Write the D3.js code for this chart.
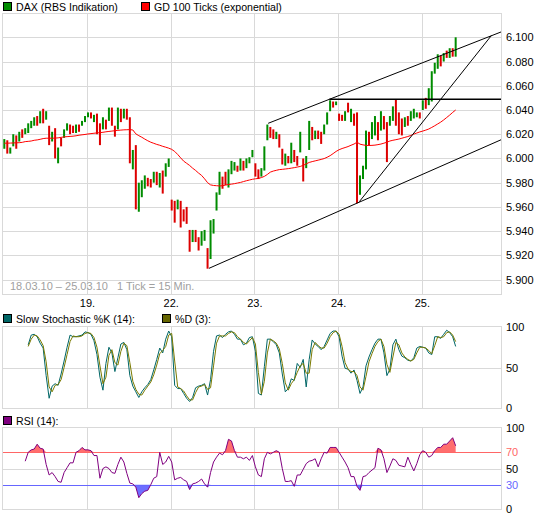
<!DOCTYPE html>
<html>
<head>
<meta charset="utf-8">
<script src="https://cdn.jsdelivr.net/npm/d3@7"></script>
<style>
body { margin: 0; background: #fff; }
svg { display: block; font-family: "Liberation Sans", Arial, sans-serif; font-size: 11px; }
</style>
</head>
<body>
<svg width="545" height="516"></svg>
<script>
// day labels and the tick index where each day starts (30 min per index)
var dayLabels = ["19.", "22.", "23.", "24.", "25."];
var dayStarts = [28, 56, 84, 112, 140];

// DAX bars, open / close per index
var barOpen = [6008,6015,6004,6010,6019,6014,6024,6020,6021,6025,6027,6035,6029,6041,6032,6027,6014,6025,5996,6017,
  6017,6023,6028,6027,6021,6028,6027,6030,6034,6038,6030,6037,6029,6024,6032,6031,6042,6027,6024,6041,
  6033,6041,6034,5991,6011,5956,5968,5975,5984,5983,5980,5989,5976,5990,5985,5993,5966,5965,5958,5965,
  5958,5960,5941,5931,5941,5935,5928,5932,5926,5917,5938,5957,5970,5985,5989,5976,5987,5990,5994,5990,
  5998,5992,5996,6001,5996,5991,5985,5990,6015,6026,6024,6016,6020,6008,5994,6002,5996,6007,6002,6005,
  6000,5992,6007,6026,6016,6023,6022,6020,6028,6039,6047,6044,6037,6036,6031,6046,6030,6037,6038,5970,
  5983,5991,6022,6016,6019,6030,6023,6035,6030,6027,6031,6049,6038,6033,6026,6035,6031,6033,6034,6038,
  6040,6050,6044,6047,6070,6074,6085,6080,6089,6083,6091,6084];
var barClose = [6016,6004,6009,6020,6008,6022,6017,6025,6029,6031,6034,6027,6039,6029,6039,6011,6022,6000,6009,6010,
  6024,6029,6020,6021,6028,6022,6031,6035,6038,6033,6036,6020,6011,6034,6024,6042,6027,6018,6042,6030,
  6041,6032,5996,6007,5958,5980,5982,5986,5977,5976,5989,5978,5988,5971,5996,6000,5957,5947,5966,5943,
  5948,5946,5923,5941,5931,5924,5940,5941,5909,5949,5950,5972,5989,5975,5978,5991,5998,5997,5989,6000,
  5990,6000,6001,6007,5985,5983,5992,6010,6028,6017,6016,6022,6009,5995,6004,5996,6013,5997,5994,6022,
  5981,6002,6031,6015,6023,6016,6012,6028,6038,6048,6042,6047,6031,6031,6039,6038,6041,6027,5963,5986,
  5994,6023,6011,6030,6035,6015,6039,6024,5997,6035,6043,6027,6020,6019,6034,6027,6039,6041,6038,6033,
  6048,6041,6058,6072,6079,6086,6076,6087,6083,6091,6084,6100];

// GD 100 Ticks (exponential)
var emaValues = [6012.6,6012.6,6012.7,6012.8,6012.9,6013.0,6013.3,6013.9,6014.1,6014.4,6015.0,6015.3,6015.8,6016.4,6016.7,6016.7,6016.7,6016.8,6017.0,6017.4,
  6017.8,6018.0,6018.2,6018.4,6018.7,6019.2,6019.5,6019.8,6020.2,6020.5,6020.8,6021.1,6021.3,6021.6,6022.0,6022.3,6022.6,6022.9,6023.2,6023.4,
  6023.6,6023.7,6023.8,6023.5,6020.3,6018.8,6017.5,6016.0,6014.6,6013.4,6012.5,6011.6,6010.9,6010.0,6009.3,6008.5,6007.5,6005.8,6003.3,6000.5,
  5997.8,5996.0,5994.2,5992.0,5990.1,5987.9,5986.0,5983.2,5980.0,5978.2,5977.7,5977.5,5977.3,5977.5,5978.0,5978.5,5978.8,5979.2,5979.7,5980.2,
  5980.9,5981.6,5982.2,5982.8,5983.2,5983.5,5984.2,5985.2,5986.8,5988.7,5989.6,5990.2,5990.8,5991.0,5991.3,5991.6,5992.0,5992.4,5992.9,5993.4,
  5994.3,5995.5,5996.7,5997.4,5998.0,5998.6,5999.2,5999.9,6001.0,6002.3,6004.0,6005.8,6007.2,6008.2,6009.0,6009.8,6010.9,6011.9,6013.4,6011.8,
  6011.2,6010.8,6010.7,6010.8,6011.0,6011.4,6011.9,6012.6,6013.4,6014.4,6015.0,6015.5,6016.0,6016.7,6017.4,6018.1,6019.0,6020.1,6021.0,6021.9,
  6022.6,6023.4,6024.3,6025.6,6027.0,6028.5,6030.0,6031.8,6033.8,6035.8,6038.0,6040.0];

// slow stochastic, starts at index 8
var stochStart = 8;
var stochK = [78,90,91,88,80,74,40,12,27,30,28,42,58,75,90,88,88,89,90,94,
  93,91,83,66,38,22,55,75,68,45,62,79,81,72,40,27,20,13,20,25,
  29,35,47,60,74,68,85,95,88,28,24,24,18,12,8,13,25,27,28,30,
  16,35,70,89,90,87,91,94,95,91,85,85,78,80,87,88,70,18,16,51,
  85,85,82,78,68,42,20,24,36,34,55,50,60,26,60,84,79,76,72,76,
  84,92,95,95,88,64,49,48,43,47,34,18,26,52,63,72,80,85,85,68,
  40,48,78,85,72,64,62,59,58,62,74,76,75,74,68,66,88,88,86,91,
  96,93,88,76];
var stochD = [76,85,90,89,84,77,57,26,20,28,29,35,50,66,82,89,88,88,89,92,
  93,92,87,75,52,30,38,65,72,56,53,70,80,77,56,33,23,17,16,22,
  27,32,41,53,67,71,76,90,92,58,26,24,21,15,10,10,19,26,27,29,
  23,25,52,80,89,89,89,92,94,93,88,85,81,79,83,87,79,44,17,33,
  68,85,83,80,73,55,31,22,30,35,44,52,55,43,43,72,81,77,74,74,
  80,88,93,95,91,76,56,48,45,45,40,26,22,39,57,67,76,82,85,76,
  54,44,63,81,78,68,63,60,58,60,68,75,75,74,71,67,77,88,87,88,
  93,94,90,82];

// RSI (14), starts at index 7
var rsiStart = 7;
var rsiValues = [59,70,73,74,80,75,74,55,42,45,40,34,33,45,51,57,57,70,72,76,
  73,73,72,66,66,38,50,52,50,45,44,55,64,58,44,32,31,27,14,19,
  22,23,30,38,40,70,55,58,65,58,36,38,39,36,34,24,31,32,34,37,
  31,27,45,58,64,69,67,72,86,84,72,64,64,62,64,60,66,52,42,40,
  62,70,68,70,72,70,50,34,34,35,28,42,42,49,56,59,60,62,52,62,
  70,69,76,76,76,70,64,58,51,40,40,28,23,40,41,45,48,51,75,73,
  62,45,53,62,60,54,53,52,64,55,47,56,67,72,70,64,66,72,76,76,
  80,80,84,88,78];

var priceTicks = [5900,5920,5940,5960,5980,6000,6020,6040,6060,6080,6100];
var stochTicks = [0,50,100];
var rsiTicks = [0,30,50,70,100];

// trend lines drawn on the chart: [index, price] pairs
var trendLines = [
  [[88.6, 6029.0], [166.5, 6104.4]],
  [[109.1, 6048.8], [166.5, 6048.8]],
  [[68.8, 5909.3], [166.5, 6015.4]],
  [[119.1, 5964.3], [163.3, 6101.5]]
];

var svg = d3.select("svg");
var left = 3.3, right = 501;
var gridColor = "#d9d9d9";

var x = d3.scaleLinear().domain([0, 166.5]).range([left, right]);
var yMain = d3.scaleLinear().domain([5900, 6100]).range([279.6, 37.3]);
var yStoch = d3.scaleLinear().domain([0, 100]).range([408, 327]);
var yRsi = d3.scaleLinear().domain([0, 100]).range([509, 428]);

var deFormat = d3.formatLocale({decimal: ",", thousands: ".", grouping: [3], currency: ["", "€"]}).format(",");

// panel frame + gridlines
function panel(top, bottom, yScale, ticks) {
  var g = svg.append("g").attr("shape-rendering", "crispEdges");
  g.selectAll(".hg").data(ticks).enter().append("line")
    .attr("x1", left).attr("x2", right)
    .attr("y1", function(d) { return Math.round(yScale(d)) + 0.5; })
    .attr("y2", function(d) { return Math.round(yScale(d)) + 0.5; })
    .attr("stroke", gridColor);
  g.selectAll(".vg").data(dayStarts).enter().append("line")
    .attr("x1", function(d) { return Math.round(x(d)) + 0.5; })
    .attr("x2", function(d) { return Math.round(x(d)) + 0.5; })
    .attr("y1", top).attr("y2", bottom)
    .attr("stroke", gridColor);
  g.append("rect")
    .attr("x", 2.5).attr("y", top + 0.5)
    .attr("width", right - 2.5).attr("height", bottom - top)
    .attr("fill", "none").attr("stroke", gridColor);
}

panel(13, 294, yMain, priceTicks);
panel(326, 408, yStoch, [50]);
panel(427, 509, yRsi, [50]);

// right-hand axes
function rightAxis(yScale, ticks, fmt) {
  var ax = svg.append("g")
    .attr("transform", "translate(" + right + ",0)")
    .call(d3.axisRight(yScale).tickValues(ticks).tickSize(0).tickPadding(5).tickFormat(fmt));
  ax.select(".domain").remove();
  ax.selectAll("text").attr("font-size", "11px").attr("font-family", "Liberation Sans, Arial, sans-serif").attr("fill", "#000");
  return ax;
}
rightAxis(yMain, priceTicks, deFormat);
rightAxis(yStoch, stochTicks, d3.format("d"));
var rsiAx = rightAxis(yRsi, rsiTicks, d3.format("d"));
rsiAx.selectAll("text").attr("fill", function(d) {
  return d == 70 ? "#ff6666" : d == 30 ? "#6666ff" : "#000";
});

// x axis day labels
var xAx = svg.append("g")
  .attr("transform", "translate(0,294)")
  .call(d3.axisBottom(x).tickValues(dayStarts).tickSize(0).tickPadding(5)
    .tickFormat(function(d, i) { return dayLabels[i]; }));
xAx.select(".domain").remove();
xAx.selectAll("text").attr("font-size", "11px").attr("font-family", "Liberation Sans, Arial, sans-serif").attr("fill", "#000");

// date range note
svg.append("text")
  .attr("x", 10).attr("y", 290)
  .attr("fill", "#a0a0a0")
  .style("white-space", "pre")
  .text("18.03.10 \u2013 25.03.10   1 Tick = 15 Min.");

// price bars
var main = svg.append("g");
main.selectAll(".bar")
  .data(barOpen)
  .enter().append("rect")
  .attr("x", function(d, i) { return x(i); })
  .attr("width", 2)
  .attr("y", function(d, i) { return yMain(Math.max(d, barClose[i])); })
  .attr("height", function(d, i) { return Math.max(1, Math.abs(yMain(d) - yMain(barClose[i]))); })
  .attr("fill", function(d, i) { return barClose[i] >= d ? "#008c00" : "#dd0000"; });

// exponential average
main.append("path")
  .datum(emaValues)
  .attr("fill", "none")
  .attr("stroke", "#ff0000")
  .attr("stroke-width", 1)
  .attr("d", d3.line().x(function(d, i) { return x(i) + 1; }).y(function(d) { return yMain(d); }));

// trend lines
main.selectAll(".trend")
  .data(trendLines)
  .enter().append("line")
  .attr("x1", function(d) { return x(d[0][0]); })
  .attr("y1", function(d) { return yMain(d[0][1]); })
  .attr("x2", function(d) { return x(d[1][0]); })
  .attr("y2", function(d) { return yMain(d[1][1]); })
  .attr("stroke", "#000")
  .attr("stroke-width", function(d) { return d[0][1] == d[1][1] ? 1.5 : 1; });

// stochastic lines
function indLine(yScale, start) {
  return d3.line().x(function(d, i) { return x(start + i) + 1; }).y(function(d) { return yScale(d); });
}
svg.append("path").datum(stochK)
  .attr("fill", "none").attr("stroke", "#006666").attr("stroke-width", 1)
  .attr("d", indLine(yStoch, stochStart));
svg.append("path").datum(stochD)
  .attr("fill", "none").attr("stroke", "#7a7a00").attr("stroke-width", 1)
  .attr("d", indLine(yStoch, stochStart));

// RSI with over-bought / over-sold fills
var rx = function(d, i) { return x(rsiStart + i) + 1; };
svg.append("path").datum(rsiValues)
  .attr("fill", "#ff6e6e")
  .attr("d", d3.area().x(rx).y0(yRsi(70)).y1(function(d) { return yRsi(Math.max(d, 70)); }));
svg.append("path").datum(rsiValues)
  .attr("fill", "#6e6eff")
  .attr("d", d3.area().x(rx).y0(yRsi(30)).y1(function(d) { return yRsi(Math.min(d, 30)); }));
svg.append("line").attr("x1", left).attr("x2", right)
  .attr("y1", Math.round(yRsi(70)) + 0.5).attr("y2", Math.round(yRsi(70)) + 0.5)
  .attr("stroke", "#ff6666").attr("shape-rendering", "crispEdges");
svg.append("line").attr("x1", left).attr("x2", right)
  .attr("y1", Math.round(yRsi(30)) + 0.5).attr("y2", Math.round(yRsi(30)) + 0.5)
  .attr("stroke", "#6666ff").attr("shape-rendering", "crispEdges");
svg.append("path").datum(rsiValues)
  .attr("fill", "none").attr("stroke", "#800080").attr("stroke-width", 1)
  .attr("d", indLine(yRsi, rsiStart));

// legends
function legend(lx, ly, color, label) {
  svg.append("rect").attr("x", lx + 0.5).attr("y", ly + 0.5).attr("width", 8).attr("height", 8)
    .attr("fill", color).attr("stroke", "#000").attr("shape-rendering", "crispEdges");
  svg.append("text").attr("x", lx + 13).attr("y", ly + 8.5).attr("fill", "#000")
    .attr("font-size", "10.6px").text(label);
}
legend(3, 2, "#008c00", "DAX (RBS Indikation)");
legend(141, 2, "#ff0000", "GD 100 Ticks (exponential)");
legend(3, 314, "#006666", "Slow Stochastic %K (14):");
legend(162, 314, "#666600", "%D (3):");
legend(3, 416, "#800080", "RSI (14):");
</script>
</body>
</html>
